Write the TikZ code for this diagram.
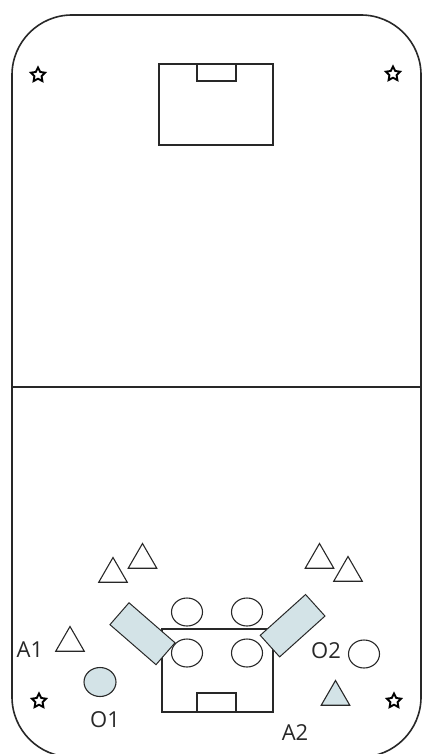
\documentclass[tikz,border=0pt]{standalone}
\usepackage{fontspec}
\setmainfont{Open Sans}
\usetikzlibrary{shapes.geometric}
\definecolor{padblue}{RGB}{211,227,231}
\definecolor{inkgray}{RGB}{40,40,40}

\begin{document}
\begin{tikzpicture}[x=1pt, y=-1pt]
  \tikzset{
    cone/.style={draw=inkgray, line width=1.1pt, regular polygon, regular polygon sides=3, minimum size=33pt, inner sep=0pt},
    player/.style={draw=inkgray, line width=1.1pt, ellipse, minimum width=31pt, minimum height=28pt, inner sep=0pt},
    pad/.style={draw=inkgray, line width=1pt, fill=padblue, minimum width=61pt, minimum height=29pt, inner sep=0pt},
    corner/.style={draw=black, line width=1.9pt, star, star points=5, star point ratio=2.0, minimum size=15pt, inner sep=0pt},
    tag/.style={font=\fontsize{22}{26}\selectfont, text=inkgray, anchor=base, inner sep=0pt}
  }
  \clip (0,0) rectangle (423,754);
  \useasboundingbox (0,0) rectangle (423,754);
  % field
  \draw[line width=1.6pt, inkgray, rounded corners=60pt] (12,15) rectangle (421,757);
  \draw[line width=1.1pt, inkgray] (12,387) -- (421,387);
  % goals
  \draw[line width=1.1pt, inkgray] (159,64) rectangle (273,145);
  \draw[line width=1.1pt, inkgray] (197,64) rectangle (236,81);
  \draw[line width=1.1pt, inkgray] (162,629) rectangle (273,712);
  \draw[line width=1.1pt, inkgray] (197,693) rectangle (236,712);
  % corner flags
  \node[corner] (flagtl) at (38,75) {};
  \node[corner] (flagtr) at (393,74) {};
  \node[corner] (flagbl) at (39,701) {};
  \node[corner] (flagbr) at (394,701) {};
  % cones
  \node[cone] (c1) at (113,574) {};
  \node[cone] (c2) at (142.5,560) {};
  \node[cone] (c3) at (319.5,560) {};
  \node[cone] (c4) at (348,573) {};
  \node[cone] (a1) at (70,643) {};
  \node[cone, fill=padblue] (a2) at (335.5,697) {};
  % players
  \node[player] (p1) at (187,612) {};
  \node[player] (p2) at (247,612) {};
  \node[player] (p3) at (187,653) {};
  \node[player] (p4) at (247,653) {};
  \node[player] (o2) at (364,654) {};
  \node[player, fill=padblue, minimum width=32pt, minimum height=29pt] (o1) at (100,682) {};
  % pads
  \node[pad, rotate=-41] (padl) at (142.5,633.7) {};
  \node[pad, rotate=42] (padr) at (292.6,625.7) {};
  % labels
  \node[tag] (la1) at (30,657) {A1};
  \node[tag] (lo1) at (105,727) {O1};
  \node[tag] (lo2) at (326,658) {O2};
  \node[tag] (la2) at (295,740) {A2};
\end{tikzpicture}
\end{document}
